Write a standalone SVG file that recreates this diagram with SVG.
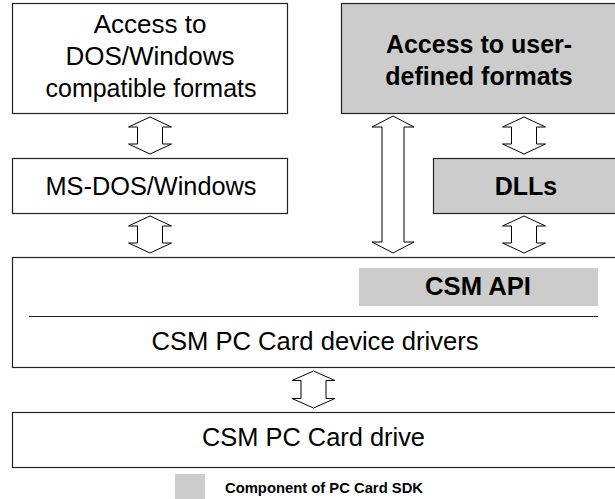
<svg xmlns="http://www.w3.org/2000/svg" width="615" height="499" viewBox="0 0 615 499">
<style>
.box{fill:#ffffff;stroke:#222222;stroke-width:1.2}
.sdk{fill:#cccccc;stroke:#222222;stroke-width:1.2}
.t{font-family:"Liberation Sans",Arial,sans-serif;font-size:26px;fill:#000;text-anchor:middle}
.b{font-weight:bold;font-size:25px}
.arr{fill:#ffffff;stroke:#000000;stroke-width:1}
</style>
<rect x="0" y="0" width="615" height="499" fill="#ffffff"/>
<g id="node-dos-formats">
<rect class="box" x="12.5" y="3.5" width="275" height="110"/>
<text class="t" x="150" y="33">Access to</text>
<text class="t" x="150" y="65">DOS/Windows</text>
<text class="t" x="151" y="97" textLength="211" lengthAdjust="spacingAndGlyphs">compatible formats</text>
</g>
<g id="node-user-formats">
<rect class="sdk" x="341.5" y="3.5" width="280" height="110"/>
<text class="t b" x="479" y="53">Access to user-</text>
<text class="t b" x="479" y="85">defined formats</text>
</g>
<g id="node-msdos">
<rect class="box" x="12.5" y="158.5" width="275" height="55"/>
<text class="t" x="151" y="195" textLength="211" lengthAdjust="spacingAndGlyphs">MS-DOS/Windows</text>
</g>
<g id="node-dlls">
<rect class="sdk" x="433.5" y="158.5" width="190" height="55"/>
<text class="t b" x="526" y="195">DLLs</text>
</g>
<g id="node-drivers">
<rect class="box" x="12.5" y="257.5" width="610" height="110"/>
<rect x="359" y="268" width="239" height="38" fill="#cccccc"/>
<text class="t b" x="478" y="295" textLength="106" lengthAdjust="spacingAndGlyphs">CSM API</text>
<line x1="29" y1="316.5" x2="598" y2="316.5" stroke="#222" stroke-width="1.2"/>
<text class="t" x="315" y="350" textLength="327" lengthAdjust="spacingAndGlyphs">CSM PC Card device drivers</text>
</g>
<g id="node-drive">
<rect class="box" x="12.5" y="412.5" width="610" height="55"/>
<text class="t" x="313.5" y="446" textLength="223" lengthAdjust="spacingAndGlyphs">CSM PC Card drive</text>
</g>
<g id="legend">
<rect x="175" y="474" width="30" height="27" fill="#cccccc"/>
<text x="225" y="493" font-family="Liberation Sans, Arial, sans-serif" font-weight="bold" font-size="15.5" textLength="198" lengthAdjust="spacingAndGlyphs">Component of PC Card SDK</text>
</g>
<g id="connectors">
<path class="arr" d="M150,117 L171.5,127 L162.5,127 L162.5,144 L171.5,144 L150,154 L128.5,144 L137.5,144 L137.5,127 L128.5,127 Z"/>
<path class="arr" d="M150,216 L171.5,226 L162.5,226 L162.5,243 L171.5,243 L150,253 L128.5,243 L137.5,243 L137.5,226 L128.5,226 Z"/>
<path class="arr" d="M524,117 L545.5,127 L536.5,127 L536.5,144 L545.5,144 L524,154 L502.5,144 L511.5,144 L511.5,127 L502.5,127 Z"/>
<path class="arr" d="M524,216 L545.5,226 L536.5,226 L536.5,243 L545.5,243 L524,253 L502.5,243 L511.5,243 L511.5,226 L502.5,226 Z"/>
<path class="arr" d="M393,116 L414,127 L404,127 L404,242 L414,242 L393,253 L372,242 L382,242 L382,127 L372,127 Z"/>
<path class="arr" d="M313.5,371 L335,380.5 L326,380.5 L326,398.5 L335,398.5 L313.5,408 L292,398.5 L301,398.5 L301,380.5 L292,380.5 Z"/>
</g>
</svg>
